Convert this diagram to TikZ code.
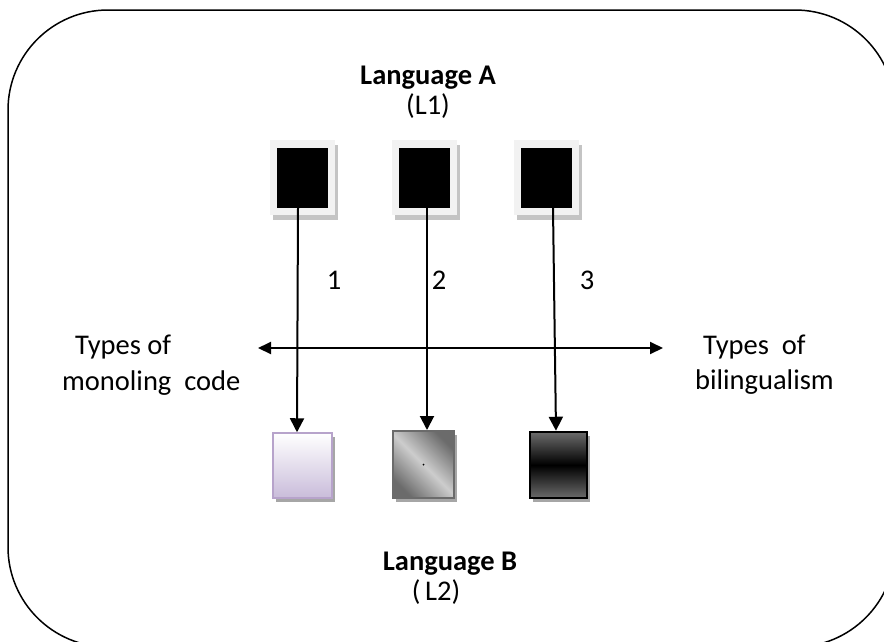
\documentclass[tikz,border=0pt]{standalone}
\usepackage{fontspec}
\setmainfont{Carlito}
\usetikzlibrary{arrows.meta,shadows}
\definecolor{lavtop}{HTML}{FFFFFF}
\definecolor{lavbot}{HTML}{C9BCDA}
\definecolor{lavline}{HTML}{B7A3CB}
\definecolor{framegray}{HTML}{F2F2F2}
\definecolor{shadowgray}{HTML}{C4C4C4}
\begin{document}
\begin{tikzpicture}[x=1pt,y=-1pt,
  txt/.style={font=\fontsize{28.5}{34}\selectfont, inner sep=0, anchor=base},
  txtb/.style={txt, font=\fontsize{28.5}{34}\selectfont\bfseries},
  txtl/.style={txt, anchor=base west},
  frame/.style={fill=framegray, minimum width=65pt, minimum height=75pt, inner sep=0,
    drop shadow={shadow xshift=3pt, shadow yshift=-5pt, fill=shadowgray, opacity=1}},
  blackbox/.style={fill=black, minimum width=51pt, minimum height=60pt, inner sep=0},
  lowbox/.style={inner sep=0, drop shadow={shadow xshift=3pt, shadow yshift=-4pt, fill=black!35, opacity=1}},
  arr/.style={line width=2pt, -{Triangle[length=14pt,width=14pt]}},
  harr/.style={line width=2pt, {Triangle[length=13pt,width=12pt]}-{Triangle[length=13pt,width=12pt]}}
]
\useasboundingbox (0,0) rectangle (884,641);
\begin{scope}
\clip (0,0) rectangle (884,641);
\draw[line width=1.5pt, rounded corners=100pt] (8,10) rectangle (895,647);
\end{scope}

% titles
\node[txtb] (la) at (428,84) {Language A};
\node[txt] (l1) at (428,114) {(L1)};
\node[txtb] (lb) at (450,570) {Language B};
\node[txt] (l2) at (436,600) {(\,L2)};

% top boxes
\node[frame] (t1) at (302.5,177.5) {};
\node[blackbox] (k1) at (302.5,178) {};
\node[frame] (t2) at (424,177.5) {};
\node[blackbox] (k2) at (424,178) {};
\node[frame] (t3) at (546.5,177.5) {};
\node[blackbox] (k3) at (546.5,178) {};

% bottom boxes
\node[lowbox, minimum width=59pt, minimum height=65pt, top color=lavtop, bottom color=lavbot,
  draw=lavline, line width=1.5pt] (b1) at (302.5,465.5) {};
\node[lowbox, minimum width=61pt, minimum height=67pt, top color=black!58, bottom color=black!58,
  middle color=black!20, shading angle=-45, draw=black!58, line width=2pt] (b2) at (423.5,464.5) {};
\fill (b2.center) circle (1pt);
\node[lowbox, minimum width=57pt, minimum height=66pt, top color=black!58, bottom color=black!58,
  middle color=black, draw=black, line width=2.5pt] (b3) at (558.5,465) {};

% vertical arrows
\draw[arr] ([xshift=-4.5pt]k1.south) -- ([xshift=-5.5pt]b1.north);
\draw[arr] ([xshift=3pt]k2.south) -- ([xshift=3.5pt]b2.north);
\draw[arr] ([xshift=6.5pt]k3.south) -- ([xshift=-2.5pt]b3.north);

% numbers
\node[txt] (n1) at (334,289) {1};
\node[txt] (n2) at (439,289) {2};
\node[txt] (n3) at (587,289) {3};

% horizontal arrow
\coordinate (hl) at (258,348);
\coordinate (hr) at (663,348);
\draw[harr] (hl) -- (hr);

% side labels
\node[txtl] (m1) at (75,354) {Types of};
\node[txtl] (m2) at (62,390) {monoling\ \ code};
\node[txtl] (s1) at (703,354) {Types\ \ of};
\node[txtl] (s2) at (695,389) {bilingualism};
\end{tikzpicture}
\end{document}
